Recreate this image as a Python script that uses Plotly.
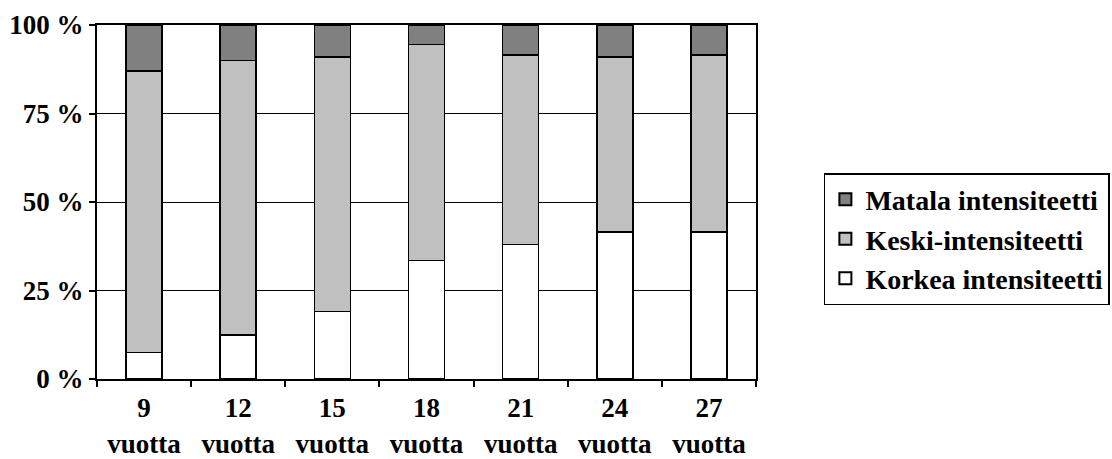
import plotly.graph_objects as go

categories = ["9", "12", "15", "18", "21", "24", "27"]
tick_labels = ["9<br>vuotta", "12<br>vuotta", "15<br>vuotta", "18<br>vuotta",
               "21<br>vuotta", "24<br>vuotta", "27<br>vuotta"]
korkea = [7.5, 12.5, 19.0, 33.5, 38.0, 41.5, 41.5]
keski = [79.5, 77.5, 72.0, 61.0, 53.5, 49.5, 50.0]
matala = [13.0, 10.0, 9.0, 5.5, 8.5, 9.0, 8.5]

FONT = "Liberation Serif"

fig = go.Figure()
series = [
    ("Korkea intensiteetti", korkea, "#ffffff"),
    ("Keski-intensiteetti", keski, "#c0c0c0"),
    ("Matala intensiteetti", matala, "#808080"),
]
for name, vals, col in series:
    fig.add_trace(go.Bar(
        x=categories, y=vals, name=name,
        marker=dict(color=col, line=dict(color="black", width=1.5)),
    ))

fig.update_layout(
    barmode="stack",
    bargap=0.617,
    width=1112, height=459,
    margin=dict(l=97, r=356, t=25, b=80, autoexpand=False),
    paper_bgcolor="white",
    plot_bgcolor="white",
    font=dict(family=FONT, size=20, color="black"),
    showlegend=True,
    legend=dict(
        traceorder="reversed",
        x=1.103, y=0.395, xanchor="left", yanchor="middle",
        bordercolor="black", borderwidth=1.5,
        font=dict(family=FONT, size=28, color="black", weight="bold"),
        itemsizing="constant",
        tracegroupgap=0,
        itemwidth=30,
    ),
)
fig.update_xaxes(
    type="category",
    tickvals=categories, ticktext=tick_labels,
    tickson="boundaries",
    ticks="outside", ticklen=6, tickcolor="black", tickwidth=1.5,
    ticklabelstandoff=4,
    showline=True, linecolor="black", linewidth=2, mirror=True,
    showgrid=False,
    tickfont=dict(family=FONT, size=27, color="black", weight="bold"),
)
fig.update_yaxes(
    range=[0, 100],
    tickvals=[0, 25, 50, 75, 100],
    ticktext=["0 %", "25 %", "50 %", "75 %", "100 %"],
    ticks="outside", ticklen=6, tickcolor="black", tickwidth=1.5,
    showline=True, linecolor="black", linewidth=2, mirror=True,
    showgrid=True, gridcolor="black", gridwidth=1,
    zeroline=False,
    tickfont=dict(family=FONT, size=27, color="black", weight="bold"),
)

fig.write_html("out.html")
